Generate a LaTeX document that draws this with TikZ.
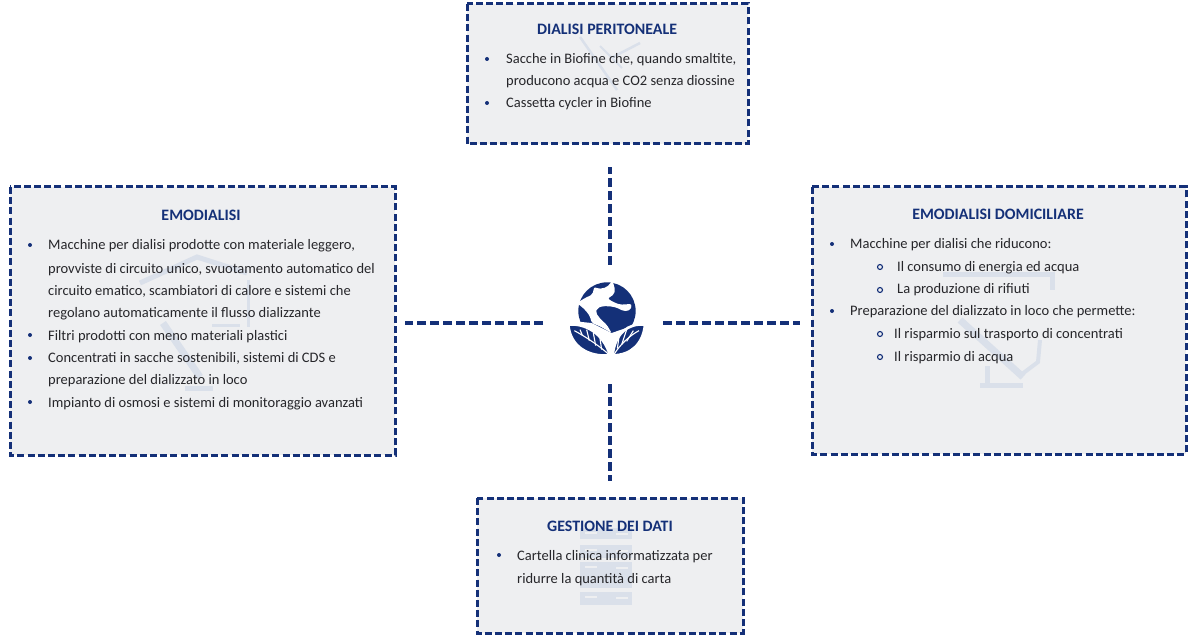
\documentclass[tikz,border=0pt]{standalone}
\usepackage{fontspec}
\setmainfont{Carlito}
\definecolor{navy}{RGB}{20,48,120}
\definecolor{panel}{RGB}{238,239,241}
\definecolor{ghost}{RGB}{218,224,234}
\definecolor{bodyink}{RGB}{38,38,42}
\tikzset{
  panelbox/.style={draw=navy,fill=panel,line width=3pt,dash pattern=on 7pt off 3.2pt},
  link/.style={draw=navy,line width=3.2pt,dash pattern=on 9pt off 4pt},
  heading/.style={anchor=base,font=\fontsize{15.9}{18}\selectfont\bfseries,text=navy,inner sep=0pt},
  line/.style={anchor=base west,font=\fontsize{14.5}{16}\selectfont,text=bodyink,inner sep=0pt},
  dot/.style={circle,fill=navy,inner sep=0pt,minimum size=4pt},
  ring/.style={draw=navy,line width=1.1pt,circle,inner sep=0pt,minimum size=5pt},
  ghostline/.style={draw=ghost,line width=4pt},
  vein/.style={draw=white,line width=1.1pt},
  leaf/.style={fill=navy,draw=white,line width=2.6pt,line join=round},
}
\begin{document}
\begin{tikzpicture}[x=1pt,y=-1pt]
\useasboundingbox (0,0) rectangle (1200,639);
\fill[white] (0,0) rectangle (1200,639);

% panels
\path[panelbox] (467,4) rectangle (748,144);
\path[panelbox] (10,187) rectangle (395,455);
\path[panelbox] (812,187) rectangle (1186,454);
\path[panelbox] (477,498) rectangle (743,633);

% faint pictograms behind the text
\draw[ghostline,line width=2.5pt] (580,37) -- (617,90);
\draw[ghostline,line width=2.5pt] (613,57) -- (640,43);
\draw[ghostline,line width=2pt] (600,46) -- (622,68);
% house
\draw[ghostline,line width=5pt] (140,283) -- (197,257) -- (247,273);
\draw[ghostline,line width=7pt] (163,323) -- (200,377);
\draw[ghostline,line width=3pt] (248,280) -- (248,327);
\draw[ghostline,line width=5pt] (185,388) -- (213,388);
\draw[ghostline,line width=3pt] (212,325) -- (240,325);
% microscope
\draw[ghostline,line width=5pt] (943,275) -- (1052,275) -- (1052,290);
\draw[ghostline,line width=7pt] (960,320) -- (1023,377);
\draw[ghostline,line width=4pt] (1040,340) -- (1038,362) -- (1022,374);
\draw[ghostline,line width=5pt] (987,385) -- (987,366);
\draw[ghostline,line width=5pt] (980,385) -- (1023,385);
% server rack
\foreach \ya/\yb in {528/539,545/558,562/588,592/605}{
  \fill[ghost] (580,\ya) rectangle (632,\yb);
  \fill[panel] (585,\ya+4) rectangle (597,\ya+6);
  \fill[panel] (616,\ya+5) rectangle (628,\ya+7);
}

% connectors around the central emblem
\coordinate (upS) at (610,265);
\coordinate (upE) at (610,167);
\coordinate (leftS) at (543,323);
\coordinate (leftE) at (405,323);
\coordinate (rightS) at (663,323);
\coordinate (rightE) at (800,323);
\coordinate (downS) at (610,384);
\coordinate (downE) at (610,481);
\path[link] (upS) -- (upE);
\path[link] (leftS) -- (leftE);
\path[link] (rightS) -- (rightE);
\path[link] (downS) -- (downE);

% central emblem: globe above two leaves
\begin{scope}[shift={(565,278)},x=0.3333pt,y=-0.3333pt]
  \fill[navy] (126,99) circle (86);
  \fill[white,rounded corners=2pt]
    (88,26) -- (100,33) -- (125,28) -- (143,8) -- (150,35) -- (148,48)
    -- (128,62) -- (145,72) -- (165,80) -- (200,78) -- (197,96) -- (175,100)
    -- (165,93) -- (145,86) -- (115,84) -- (97,90) -- (92,104) -- (108,125)
    -- (125,140) -- (140,165) -- (105,145) -- (80,135) -- (75,115) -- (60,95)
    -- (36,75) -- (60,60) -- (82,50) -- cycle;
  \fill[white] (30,130) -- (80,135) -- (140,165) -- (198,145) -- (230,240) -- (30,240) -- cycle;
  \path[leaf] (10,140) .. controls (60,135) and (115,165) .. (135,232)
    .. controls (70,238) and (15,205) .. (10,140) -- cycle;
  \path[leaf] (240,140) .. controls (190,135) and (150,165) .. (143,232)
    .. controls (200,232) and (235,195) .. (240,140) -- cycle;
  \draw[vein] (28,158) .. controls (60,175) and (105,205) .. (130,228);
  \draw[vein] (45,155) -- (52,172);
  \draw[vein] (65,155) -- (73,188);
  \draw[vein] (85,165) -- (92,203);
  \draw[vein] (105,182) -- (110,215);
  \draw[vein] (222,158) .. controls (195,172) and (165,200) .. (148,228);
  \draw[vein] (205,158) -- (185,190);
  \draw[vein] (185,155) -- (170,200);
  \draw[vein] (163,170) -- (157,212);
\end{scope}

% peritoneal dialysis text
\node[heading] (th) at (607,35) {DIALISI PERITONEALE};
\node[dot] at (487,59) {};
\node[line] (t1) at (506,64) {Sacche in Biofine che, quando smaltite,};
\node[line] (t2) at (506,86) {producono acqua e CO2 senza diossine};
\node[dot] at (487,103) {};
\node[line] (t3) at (506,108) {Cassetta cycler in Biofine};

% haemodialysis text
\node[heading] (lh) at (201,221) {EMODIALISI};
\foreach \yy in {245,335,358,402}{\node[dot] at (30,\yy) {};}
\node[line] (l1) at (48,250) {Macchine per dialisi prodotte con materiale leggero,};
\node[line] (l2) at (48,273) {provviste di circuito unico, svuotamento automatico del};
\node[line] (l3) at (48,295) {circuito ematico, scambiatori di calore e sistemi che};
\node[line] (l4) at (48,317) {regolano automaticamente il flusso dializzante};
\node[line] (l5) at (48,340) {Filtri prodotti con meno materiali plastici};
\node[line] (l6) at (48,362) {Concentrati in sacche sostenibili, sistemi di CDS e};
\node[line] (l7) at (48,384) {preparazione del dializzato in loco};
\node[line] (l8) at (48,407) {Impianto di osmosi e sistemi di monitoraggio avanzati};

% home haemodialysis text
\node[heading] (rh) at (998,220) {EMODIALISI DOMICILIARE};
\node[dot] at (832,244) {};
\node[line] (r1) at (850,249) {Macchine per dialisi che riducono:};
\node[ring] (ra) at (880,267) {};
\node[line] (r2) at (897,272) {Il consumo di energia ed acqua};
\node[ring] (rb) at (880,290) {};
\node[line] (r3) at (897,294) {La produzione di rifiuti};
\node[dot] at (832,311) {};
\node[line] (r4) at (850,316) {Preparazione del dializzato in loco che permette:};
\node[ring] (rc) at (880,334) {};
\node[line] (r5) at (894,338) {Il risparmio sul trasporto di concentrati};
\node[ring] (rd) at (880,357) {};
\node[line] (r6) at (894,361) {Il risparmio di acqua};

% data management text
\node[heading] (bh) at (610,531) {GESTIONE DEI DATI};
\node[dot] at (499,555) {};
\node[line] (b1) at (517,560) {Cartella clinica informatizzata per};
\node[line] (b2) at (517,583) {ridurre la quantità di carta};
\end{tikzpicture}
\end{document}
